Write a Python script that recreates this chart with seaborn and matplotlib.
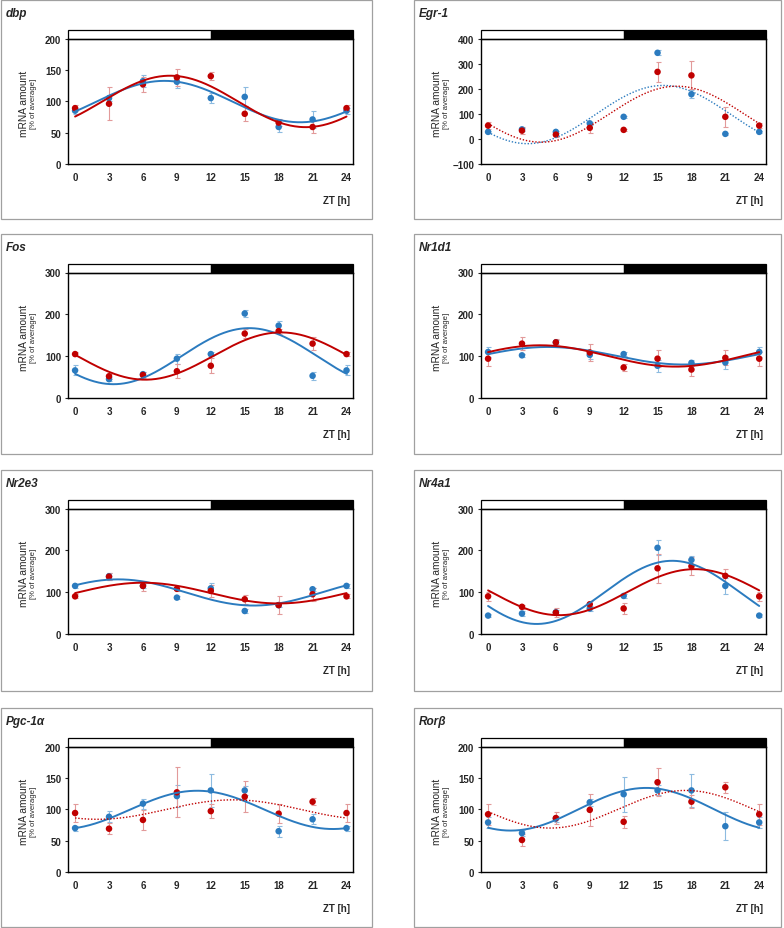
import numpy as np
import pandas as pd
import matplotlib
matplotlib.use("Agg")
import matplotlib.pyplot as plt
from matplotlib.patches import Rectangle
import matplotlib.transforms as mtransforms
import seaborn as sns

sns.set_theme(style="white")
plt.rcParams['font.family'] = ['Liberation Sans', 'DejaVu Sans']

# ---------------- data ----------------
zt = [0, 3, 6, 9, 12, 15, 18, 21, 24]
genes = ["dbp", "Egr-1", "Fos", "Nr1d1", "Nr2e3", "Nr4a1", "Pgc-1α", "Rorβ"]

dbp_blue = [85, 105, 132, 131, 105, 107, 59, 71, 85]
dbp_blue_err = [5, 5, 10, 10, 8, 15, 8, 14, 5]
dbp_red = [89, 96, 127, 138, 140, 80, 66, 59, 89]
dbp_red_err = [5, 26, 12, 14, 6, 12, 6, 10, 5]

egr1_blue = [28, 38, 28, 62, 88, 343, 178, 20, 28]
egr1_blue_err = [5, 5, 5, 5, 5, 10, 15, 4, 5]
egr1_red = [53, 33, 17, 44, 36, 267, 253, 88, 53]
egr1_red_err = [15, 13, 8, 20, 5, 40, 56, 40, 10]

fos_blue = [66, 45, 57, 94, 105, 202, 173, 53, 66]
fos_blue_err = [12, 5, 5, 12, 4, 9, 12, 10, 12]
fos_red = [105, 52, 55, 64, 77, 154, 160, 130, 105]
fos_red_err = [4, 6, 6, 17, 18, 10, 6, 15, 4]

nr1d1_blue = [110, 102, 133, 103, 105, 77, 84, 85, 110]
nr1d1_blue_err = [12, 3, 5, 10, 5, 14, 7, 15, 12]
nr1d1_red = [94, 130, 133, 109, 73, 94, 68, 96, 94]
nr1d1_red_err = [17, 15, 8, 20, 9, 20, 16, 18, 17]

nr2e3_blue = [115, 138, 115, 87, 109, 55, 69, 107, 115]
nr2e3_blue_err = [4, 8, 5, 4, 12, 4, 5, 4, 4]
nr2e3_red = [90, 137, 115, 108, 103, 83, 69, 95, 90]
nr2e3_red_err = [5, 8, 12, 6, 15, 11, 22, 15, 5]

nr4a1_blue = [44, 49, 52, 61, 91, 206, 177, 115, 44]
nr4a1_blue_err = [3, 6, 5, 5, 5, 18, 10, 19, 3]
nr4a1_red = [90, 65, 51, 71, 61, 157, 162, 139, 90]
nr4a1_red_err = [10, 5, 10, 8, 13, 35, 22, 17, 10]

pgc_blue = [70, 88, 109, 121, 130, 130, 65, 84, 70]
pgc_blue_err = [4, 9, 8, 17, 26, 7, 9, 8, 4]
pgc_red = [94, 69, 83, 127, 97, 120, 93, 112, 94]
pgc_red_err = [14, 9, 16, 40, 11, 25, 15, 6, 14]

rorb_blue = [79, 62, 85, 111, 124, 130, 130, 73, 79]
rorb_blue_err = [9, 5, 5, 6, 28, 8, 26, 22, 9]
rorb_red = [92, 51, 86, 99, 80, 143, 112, 135, 92]
rorb_red_err = [17, 10, 9, 25, 10, 22, 10, 9, 17]

# fitted cosine curves: [mesor, amplitude, peak time (h)]
dbp_blue_fit, dbp_red_fit = [99.5, 33, 7.9], [99.7, 41, 8.4]
egr1_blue_fit, egr1_red_fit = [97, 116, 15.5], [98.5, 111.5, 16.7]
fos_blue_fit, fos_red_fit = [100, 67, 15.4], [100.3, 56.5, 18.2]
nr1d1_blue_fit, nr1d1_red_fit = [101, 21, 5.3], [100.5, 25.5, 4.6]
nr2e3_blue_fit, nr2e3_red_fit = [99.3, 31.3, 3.8], [97.8, 24.8, 6.0]
nr4a1_blue_fit, nr4a1_red_fit = [99.5, 75.5, 16.3], [100, 55, 18.3]
pgc_blue_fit, pgc_red_fit = [99, 30.5, 10.8], [99.5, 15.5, 14.0]
rorb_blue_fit, rorb_red_fit = [100, 34, 14.0], [100, 30, 17.5]

panels = [
    ("dbp", dbp_blue, dbp_blue_err, dbp_red, dbp_red_err, dbp_blue_fit, dbp_red_fit, (0, 200, 50), ("-", "-")),
    ("Egr-1", egr1_blue, egr1_blue_err, egr1_red, egr1_red_err, egr1_blue_fit, egr1_red_fit, (-100, 400, 100), (":", ":")),
    ("Fos", fos_blue, fos_blue_err, fos_red, fos_red_err, fos_blue_fit, fos_red_fit, (0, 300, 100), ("-", "-")),
    ("Nr1d1", nr1d1_blue, nr1d1_blue_err, nr1d1_red, nr1d1_red_err, nr1d1_blue_fit, nr1d1_red_fit, (0, 300, 100), ("-", "-")),
    ("Nr2e3", nr2e3_blue, nr2e3_blue_err, nr2e3_red, nr2e3_red_err, nr2e3_blue_fit, nr2e3_red_fit, (0, 300, 100), ("-", "-")),
    ("Nr4a1", nr4a1_blue, nr4a1_blue_err, nr4a1_red, nr4a1_red_err, nr4a1_blue_fit, nr4a1_red_fit, (0, 300, 100), ("-", "-")),
    ("Pgc-1α", pgc_blue, pgc_blue_err, pgc_red, pgc_red_err, pgc_blue_fit, pgc_red_fit, (0, 200, 50), ("-", ":")),
    ("Rorβ", rorb_blue, rorb_blue_err, rorb_red, rorb_red_err, rorb_blue_fit, rorb_red_fit, (0, 200, 50), ("-", ":")),
]

BLUE = "#2b7bbf"
RED = "#c00000"
BLUE_ERR = "#8dbbe0"
RED_ERR = "#e29a9a"

W, H = 784, 929
fig = plt.figure(figsize=(W / 100, H / 100), dpi=100)

def fx(x):
    return x / W

def fy(y):
    return 1 - y / H

col_box = [(1, 372), (414, 781)]
col_axes = [(68.3, 353.3), (481.3, 766.0)]
row_box = [(1, 220), (235, 455), (471, 692), (709, 928)]

t = np.linspace(0, 24, 300)

for i, (name, b, be, r, re_, bfit, rfit, ylim, styles) in enumerate(panels):
    col, row = i % 2, i // 2
    bx0, bx1 = col_box[col]
    by0, by1 = row_box[row]
    # panel frame
    fig.patches.append(Rectangle((fx(bx0), fy(by1)), fx(bx1) - fx(bx0), fy(by0) - fy(by1),
                                 transform=fig.transFigure, fill=False,
                                 edgecolor="#a0a0a0", linewidth=0.9))
    ax0, ax1 = col_axes[col]
    at = by0 + 38.5
    ab = by0 + 164
    ax = fig.add_axes([fx(ax0), fy(ab), fx(ax1) - fx(ax0), fy(at) - fy(ab)])

    df_pts = pd.DataFrame({"ZT": zt + zt, "val": b + r,
                           "grp": ["b"] * len(zt) + ["r"] * len(zt)})
    ax.errorbar(zt, b, yerr=be, fmt="none", ecolor=BLUE_ERR, elinewidth=0.8,
                capsize=1.8, capthick=0.8, zorder=2)
    ax.errorbar(zt, r, yerr=re_, fmt="none", ecolor=RED_ERR, elinewidth=0.8,
                capsize=1.8, capthick=0.8, zorder=2)
    sns.scatterplot(data=df_pts, x="ZT", y="val", hue="grp",
                    palette={"b": BLUE, "r": RED}, s=22, linewidth=0,
                    legend=False, ax=ax, zorder=3)

    for fit, color, ls in ((bfit, BLUE, styles[0]), (rfit, RED, styles[1])):
        m, a, p = fit
        curve = pd.DataFrame({"t": t, "y": m + a * np.cos(2 * np.pi * (t - p) / 24)})
        sns.lineplot(data=curve, x="t", y="y", color=color, ax=ax, zorder=4,
                     linewidth=1.4 if ls == "-" else 1.0,
                     linestyle="-" if ls == "-" else (0, (1, 1.3)))

    ax.set_xlim(-0.6, 24.6)
    ax.set_ylim(ylim[0], ylim[1])
    ax.set_xticks(zt)
    ax.set_xticklabels([str(v) for v in zt])
    ax.set_yticks(np.arange(ylim[0], ylim[1] + 1, ylim[2]))
    ax.set_xlabel("")
    ax.set_ylabel("")
    ax.tick_params(axis="x", length=0, pad=6, labelsize=7)
    ax.tick_params(axis="y", length=2.2, width=0.8, pad=3, labelsize=7, left=True, direction="out")
    for lab in ax.get_xticklabels() + ax.get_yticklabels():
        lab.set_fontweight("bold")
    for s in ax.spines.values():
        s.set_visible(True)
        s.set_color("black")
        s.set_linewidth(1.0)

    # light / dark bar
    trans = mtransforms.blended_transform_factory(ax.transData, ax.transAxes)
    bh = 0.066
    ax.add_patch(Rectangle((-0.6, 1.0), 12.6, bh, transform=trans, facecolor="white",
                           edgecolor="black", linewidth=0.9, clip_on=False))
    ax.add_patch(Rectangle((12, 1.0), 12.6, bh, transform=trans, facecolor="black",
                           edgecolor="black", linewidth=0.9, clip_on=False))

    # texts
    fig.text(fx(bx0 + 5), fy(by0 + 13), name, fontsize=8.5, fontweight="bold",
             fontstyle="italic", ha="left", va="center")
    fig.text(fx(ax1 - 3), fy(by0 + 200), "ZT [h]", fontsize=7, fontweight="bold",
             ha="right", va="center")
    ymid = (at + ab) / 2 + 2
    fig.text(fx(ax0 - 44), fy(ymid), "mRNA amount", fontsize=7.3, rotation=90,
             ha="center", va="center")
    fig.text(fx(ax0 - 34.5), fy(ymid), "[% of average]", fontsize=5.6, rotation=90,
             ha="center", va="center")

fig.savefig("out.png", dpi=100)
